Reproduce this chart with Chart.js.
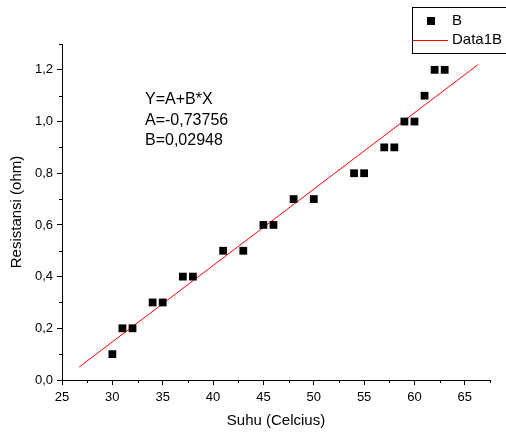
<!DOCTYPE html>
<html>
<head>
<meta charset="utf-8">
<script src="https://cdn.jsdelivr.net/npm/chart.js@4.4.1/dist/chart.umd.min.js"></script>
<style>
  html, body { margin: 0; padding: 0; background: #fff; }
  #wrap { width: 506px; height: 435px; position: relative; }
</style>
</head>
<body>
<div id="wrap"><canvas id="chart" width="506" height="435"></canvas></div>
<script>
// measured data (Suhu vs Resistansi)
const suhu = [30, 31, 32, 34, 35, 37, 38, 41, 43, 45, 46, 48, 50, 54, 55, 57, 58, 59, 60, 61, 62, 63];
const resistansi = [0.1, 0.2, 0.2, 0.3, 0.3, 0.4, 0.4, 0.5, 0.5, 0.6, 0.6, 0.7, 0.7, 0.8, 0.8, 0.9, 0.9, 1.0, 1.0, 1.1, 1.2, 1.2];

// linear fit line endpoints
const fitX = [26.7, 66.3];
const fitY = [0.05, 1.22];

// tick labels
const xTicks = [25, 30, 35, 40, 45, 50, 55, 60, 65];
const yTicks = [0, 0.2, 0.4, 0.6, 0.8, 1.0, 1.2];
const xMinor = [27.5, 32.5, 37.5, 42.5, 47.5, 52.5, 57.5, 62.5, 67.5];
const yMinor = [0.1, 0.3, 0.5, 0.7, 0.9, 1.1, 1.3];

const fitText = ['Y=A+B*X', 'A=-0,73756', 'B=0,02948'];
const seriesNames = ['B', 'Data1B'];

const FONT = '"Liberation Sans", Arial, sans-serif';

// minor ticks + fit text + legend box
const extras = {
    id: 'extras',
    afterDraw(chart) {
        const ctx = chart.ctx;
        const xs = chart.scales.x;
        const ys = chart.scales.y;
        ctx.save();
        ctx.strokeStyle = '#000';
        ctx.lineWidth = 1;
        ctx.beginPath();
        xMinor.forEach(v => {
            const px = Math.round(xs.getPixelForValue(v)) + 0.5;
            ctx.moveTo(px, ys.bottom);
            ctx.lineTo(px, ys.bottom + 3);
        });
        yMinor.forEach(v => {
            const py = Math.round(ys.getPixelForValue(v)) + 0.5;
            ctx.moveTo(xs.left, py);
            ctx.lineTo(xs.left - 3, py);
        });
        ctx.stroke();

        // fit parameters
        ctx.fillStyle = '#000';
        ctx.font = '16px ' + FONT;
        ctx.textBaseline = 'middle';
        ctx.textAlign = 'left';
        fitText.forEach((t, i) => ctx.fillText(t, 145, 100 + i * 20.5));

        // legend
        ctx.fillStyle = '#fff';
        ctx.fillRect(412.5, 7.5, 94, 46);
        ctx.strokeStyle = '#000';
        ctx.strokeRect(412.5, 7.5, 94, 46);
        ctx.fillStyle = '#000';
        ctx.fillRect(427, 17, 8, 8);
        ctx.strokeStyle = '#ff0000';
        ctx.beginPath();
        ctx.moveTo(413, 40.5);
        ctx.lineTo(448, 40.5);
        ctx.stroke();
        ctx.fillStyle = '#000';
        ctx.font = '15px ' + FONT;
        ctx.fillText(seriesNames[0], 452, 21);
        ctx.fillText(seriesNames[1], 452, 40);
        ctx.restore();
    }
};

const commaFmt = v => v.toFixed(1).replace('.', ',');

new Chart(document.getElementById('chart'), {
    type: 'scatter',
    data: {
        datasets: [
            {
                label: seriesNames[0],
                data: suhu.map((x, i) => ({ x: x, y: resistansi[i] })),
                pointStyle: 'rect',
                pointRadius: 5.5,
                backgroundColor: '#000',
                borderColor: '#000',
                borderWidth: 0,
                showLine: false
            },
            {
                label: seriesNames[1],
                data: fitX.map((x, i) => ({ x: x, y: fitY[i] })),
                showLine: true,
                pointRadius: 0,
                borderColor: '#ff0000',
                borderWidth: 1
            }
        ]
    },
    options: {
        responsive: false,
        animation: false,
        layout: { padding: { top: 44, right: 16, left: 0, bottom: 0 } },
        plugins: {
            legend: { display: false },
            tooltip: { enabled: false }
        },
        scales: {
            x: {
                type: 'linear',
                min: 25,
                max: 67.5,
                afterFit: s => { s.height = 55; },
                afterBuildTicks: s => { s.ticks = xTicks.map(v => ({ value: v })); },
                border: { display: true, color: '#000', width: 1 },
                grid: { drawOnChartArea: false, drawTicks: true, tickLength: 5, color: '#000' },
                ticks: {
                    autoSkip: false,
                    maxRotation: 0,
                    padding: 5,
                    color: '#000',
                    font: { family: FONT, size: 13 }
                },
                title: {
                    display: true,
                    text: 'Suhu (Celcius)',
                    color: '#000',
                    font: { family: FONT, size: 15 },
                    padding: { top: 0, bottom: 5 }
                }
            },
            y: {
                min: 0,
                max: 1.3,
                afterFit: s => { s.width = 62; },
                afterBuildTicks: s => { s.ticks = yTicks.map(v => ({ value: v })); },
                border: { display: true, color: '#000', width: 1 },
                grid: { drawOnChartArea: false, drawTicks: true, tickLength: 5, color: '#000' },
                ticks: {
                    autoSkip: false,
                    padding: 4,
                    color: '#000',
                    font: { family: FONT, size: 13 },
                    callback: v => commaFmt(v)
                },
                title: {
                    display: true,
                    text: 'Resistansi (ohm)',
                    color: '#000',
                    font: { family: FONT, size: 15 },
                    padding: { top: 8, bottom: 0 }
                }
            }
        }
    },
    plugins: [extras]
});
</script>
</body>
</html>
